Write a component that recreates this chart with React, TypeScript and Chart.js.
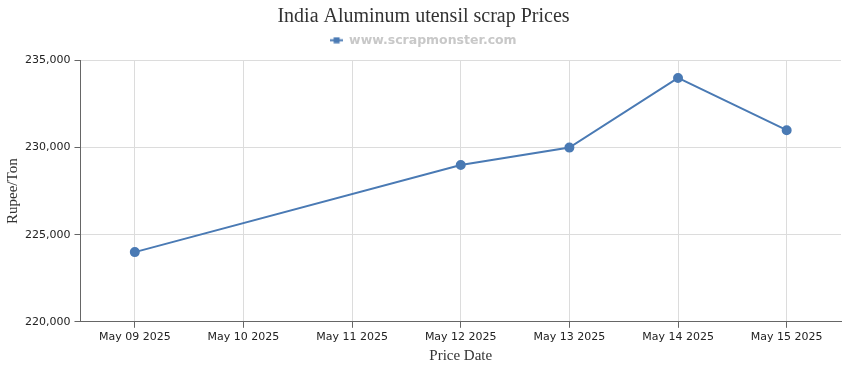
import React, { useEffect, useRef } from "react";
import { Chart, registerables } from "chart.js";

Chart.register(...registerables);

const categories = ["May 09 2025", "May 10 2025", "May 11 2025", "May 12 2025", "May 13 2025", "May 14 2025", "May 15 2025"];
const prices: (number | null)[] = [224000, null, null, 229000, 230000, 234000, 231000];
const seriesName = "www.scrapmonster.com";
const titleText = "India Aluminum utensil scrap Prices";
const yTitle = "Rupee/Ton";
const xTitle = "Price Date";

function legendIcon(color: string) {
  const c = document.createElement("canvas");
  c.width = 13;
  c.height = 7;
  const ctx = c.getContext("2d")!;
  ctx.strokeStyle = color;
  ctx.lineWidth = 2;
  ctx.beginPath();
  ctx.moveTo(0, 3.5);
  ctx.lineTo(13, 3.5);
  ctx.stroke();
  ctx.fillStyle = color;
  ctx.fillRect(3.5, 0.5, 6, 6);
  return c;
}

const legendSpacer = {
  id: "legendSpacer",
  beforeInit(chart: any) {
    const legend = chart.legend;
    if (!legend) return;
    const orig = legend.fit;
    legend.fit = function () {
      orig.call(this);
      this.height += 4;
    };
  },
};

export default function App() {
  const ref = useRef<HTMLCanvasElement>(null);
  useEffect(() => {
    document.body.style.margin = "0";
    const color = "#4a7ab4";
    const chart = new Chart(ref.current!, {
      type: "line",
      data: {
        labels: categories,
        datasets: [
          {
            label: seriesName,
            data: prices,
            borderColor: color,
            backgroundColor: color,
            borderWidth: 2,
            pointRadius: 4,
            pointHoverRadius: 4,
            pointStyle: "circle",
            spanGaps: true,
            tension: 0,
          },
        ],
      },
      plugins: [legendSpacer],
      options: {
        animation: false,
        responsive: false,
        layout: { padding: { left: 6, right: 9, top: 0, bottom: 5 } },
        plugins: {
          title: {
            display: true,
            text: titleText,
            color: "#333",
            font: { family: "Liberation Serif", size: 20, weight: "normal", lineHeight: 0.8 },
            padding: { top: 9, bottom: 0 },
          },
          legend: {
            display: true,
            labels: {
              color: "#c8c8c8",
              font: { family: "DejaVu Sans", size: 12.5, weight: "bold" },
              usePointStyle: true,
              pointStyle: legendIcon(color) as any,
              boxWidth: 13,
              padding: 9,
            },
          },
          tooltip: { enabled: false },
        },
        scales: {
          x: {
            offset: true,
            grid: { color: "#dcdcdc", tickColor: "#666", tickLength: 6, offset: false },
            border: { color: "#666", width: 1 },
            ticks: { color: "#222", font: { family: "DejaVu Sans", size: 11 }, maxRotation: 0, autoSkip: false, padding: 3 },
            title: { display: true, text: xTitle, color: "#333", font: { family: "Liberation Serif", size: 15 }, padding: { top: 0, bottom: 0 } },
          },
          y: {
            min: 220000,
            max: 235000,
            grid: { color: "#dcdcdc", tickColor: "#666", tickLength: 6 },
            border: { color: "#666", width: 1 },
            ticks: {
              stepSize: 5000,
              color: "#222",
              font: { family: "DejaVu Sans", size: 11 },
              padding: 4,
              callback: (v: any) => Number(v).toLocaleString("en-US"),
            },
            title: { display: true, text: yTitle, color: "#333", font: { family: "Liberation Serif", size: 15, lineHeight: 1 }, padding: { top: 0, bottom: 0 } },
          },
        },
      },
    });
    return () => chart.destroy();
  }, []);
  return (
    <div style={{ width: 850, height: 370 }}>
      <canvas ref={ref} width={850} height={370} style={{ width: 850, height: 370, display: "block" }} />
    </div>
  );
}
